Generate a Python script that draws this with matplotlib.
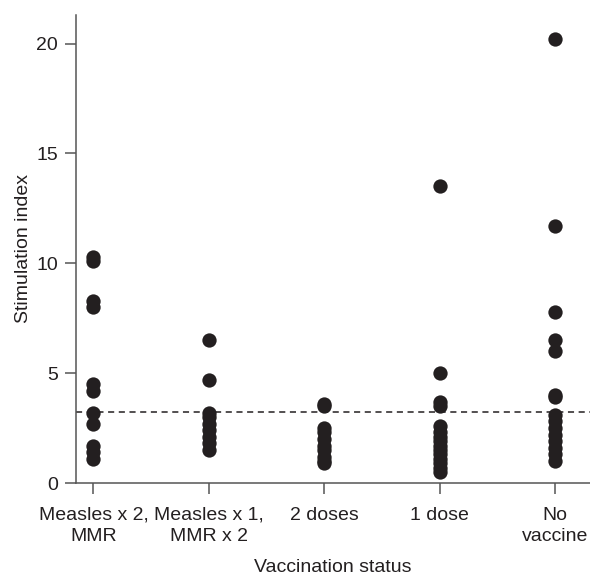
import matplotlib.pyplot as plt
import numpy as np

plt.rcParams['font.family'] = ['Liberation Sans', 'DejaVu Sans']

groups = ['Measles x 2,\nMMR', 'Measles x 1,\nMMR x 2', '2 doses', '1 dose', 'No\nvaccine']
values = [
    [10.3, 10.1, 8.3, 8.0, 4.5, 4.2, 3.2, 2.7, 1.7, 1.4, 1.1],
    [6.5, 4.7, 3.2, 3.0, 2.7, 2.4, 2.1, 1.8, 1.5],
    [3.6, 3.5, 2.5, 2.3, 2.0, 1.7, 1.5, 1.2, 1.0, 0.9],
    [13.5, 5.0, 3.7, 3.5, 2.6, 2.3, 2.1, 1.9, 1.7, 1.5, 1.3, 1.1, 0.9, 0.7, 0.5],
    [20.2, 11.7, 7.8, 6.5, 6.0, 4.0, 3.9, 3.1, 2.8, 2.5, 2.2, 1.9, 1.6, 1.3, 1.0],
]
threshold = 3.24

fig = plt.figure(figsize=(5.9, 5.75), dpi=100)
ax = fig.add_axes([0.129, 0.16, 0.871, 0.814])

dot = '#231f20'
for i, vals in enumerate(values):
    ax.plot(np.full(len(vals), i), vals, 'o', color=dot, markersize=10.3, markeredgewidth=0)

ax.axhline(threshold, color=dot, lw=1.1, ls=(0, (4, 3)))

ax.set_xlim(-0.15, 4.3)
ax.set_ylim(0, 21.3)
ax.set_xticks(range(len(groups)))
ax.set_xticklabels(groups, fontsize=14, color='#231f20', linespacing=1.35)
ax.set_yticks([0, 5, 10, 15, 20])
ax.tick_params(axis='both', direction='out', length=8, width=1.1, color='#555555',
               labelsize=14, labelcolor='#231f20', pad=5)
ax.tick_params(axis='x', pad=9)
for s in ['top', 'right']:
    ax.spines[s].set_visible(False)
for s in ['left', 'bottom']:
    ax.spines[s].set_color('#555555')
    ax.spines[s].set_linewidth(1.1)

ax.set_xlabel('Vaccination status', fontsize=14, color='#231f20', labelpad=10)
ax.set_ylabel('Stimulation index', fontsize=14, color='#231f20', labelpad=3)

fig.savefig('out.png', dpi=100)
